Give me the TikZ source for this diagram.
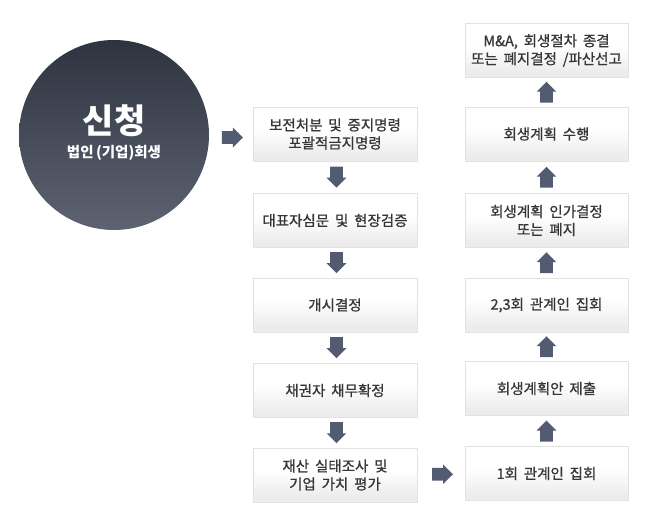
\documentclass[tikz,border=0pt]{standalone}
\usepackage{fontspec}
\newfontfamily\kr[WordSpace=1.8]{Noto Sans CJK KR}
\newfontfamily\krm[WordSpace=1.8,FakeBold=0.8]{Noto Sans CJK KR}
\usetikzlibrary{calc}
\definecolor{arrowc}{HTML}{525B70}
\definecolor{boxline}{HTML}{E2E2E2}
\definecolor{boxbot}{HTML}{ECECEC}
\definecolor{txt}{HTML}{363636}
\definecolor{circtop}{HTML}{2E3340}
\definecolor{circbot}{HTML}{5E6372}
\pgfdeclareverticalshading{boxshade}{100bp}{color(0bp)=(boxbot); color(30bp)=(boxbot); color(55bp)=(white); color(100bp)=(white)}
\begin{document}
\begin{tikzpicture}[x=1pt,y=-1pt,
  stepbox/.style={draw=boxline, line width=0.8pt, shading=boxshade,
    minimum width=164pt, minimum height=54pt, inner sep=0pt, align=center,
    font=\krm\fontsize{14.5}{18}\selectfont, text=txt},
  blockarrow/.pic={\fill[arrowc] (-6.3,-10.5) -- (6.3,-10.5) -- (6.3,0.5) -- (9.9,0.5) -- (0,10.5) -- (-9.9,0.5) -- (-6.3,0.5) -- cycle;}
]
\useasboundingbox (0,0) rectangle (664,518);
\fill[white] (0,0) rectangle (664,518);
% circle
\node[circle, minimum size=190pt, inner sep=0pt, top color=circtop, bottom color=circbot, draw=none] (circ) at (114,135) {};
\node[font=\kr\bfseries\fontsize{34}{36}\selectfont, text=white, inner sep=0pt] (t1) at (114,121) {신청};
\node[font=\kr\bfseries\fontsize{14.5}{16}\selectfont, text=white, inner sep=0pt] (t2) at (114,153) {법인\,(기업)회생};
% left column
\node[stepbox] (b1) at (335,134) {보전처분 및 중지명령\\포괄적금지명령};
\node[stepbox] (b2) at (335,220.5) {대표자심문 및 현장검증};
\node[stepbox] (b3) at (335,305) {개시결정};
\node[stepbox] (b4) at (335,390.5) {채권자 채무확정};
\node[stepbox] (b5) at (335,475) {재산 실태조사 및\\기업 가치 평가};
% right column
\node[stepbox, minimum width=163pt] (r1) at (546.5,473.5) {1회 관계인 집회};
\node[stepbox, minimum width=163pt] (r2) at (546.5,388.5) {회생계획안 제출};
\node[stepbox, minimum width=163pt] (r3) at (546.5,305) {2,3회 관계인 집회};
\node[stepbox, minimum width=163pt] (r4) at (546.5,220.5) {회생계획 인가결정\\또는 폐지};
\node[stepbox, minimum width=163pt] (r5) at (546.5,134) {회생계획 수행};
\node[stepbox, minimum width=163pt] (r6) at (546.5,50.5) {M\&A, 회생절차 종결\\또는 폐지결정 /파산선고};
% arrows
\pic[rotate=90] at ($(circ.east)!0.5!(b1.west)+(1.5,3)$) {blockarrow};
\pic at ($(b1.south)!0.5!(b2.north)+(1.5,0)$) {blockarrow};
\pic at ($(b2.south)!0.5!(b3.north)+(1.5,0)$) {blockarrow};
\pic at ($(b3.south)!0.5!(b4.north)+(1.5,0)$) {blockarrow};
\pic at ($(b4.south)!0.5!(b5.north)+(1.5,0)$) {blockarrow};
\pic[rotate=90] at ($(b5.east)!0.5!(r1.west)+(1.5,0)$) {blockarrow};
\pic[rotate=180] at ($(r1.north)!0.5!(r2.south)$) {blockarrow};
\pic[rotate=180] at ($(r2.north)!0.5!(r3.south)$) {blockarrow};
\pic[rotate=180] at ($(r3.north)!0.5!(r4.south)$) {blockarrow};
\pic[rotate=180] at ($(r4.north)!0.5!(r5.south)$) {blockarrow};
\pic[rotate=180] at ($(r5.north)!0.5!(r6.south)$) {blockarrow};
\end{tikzpicture}
\end{document}
